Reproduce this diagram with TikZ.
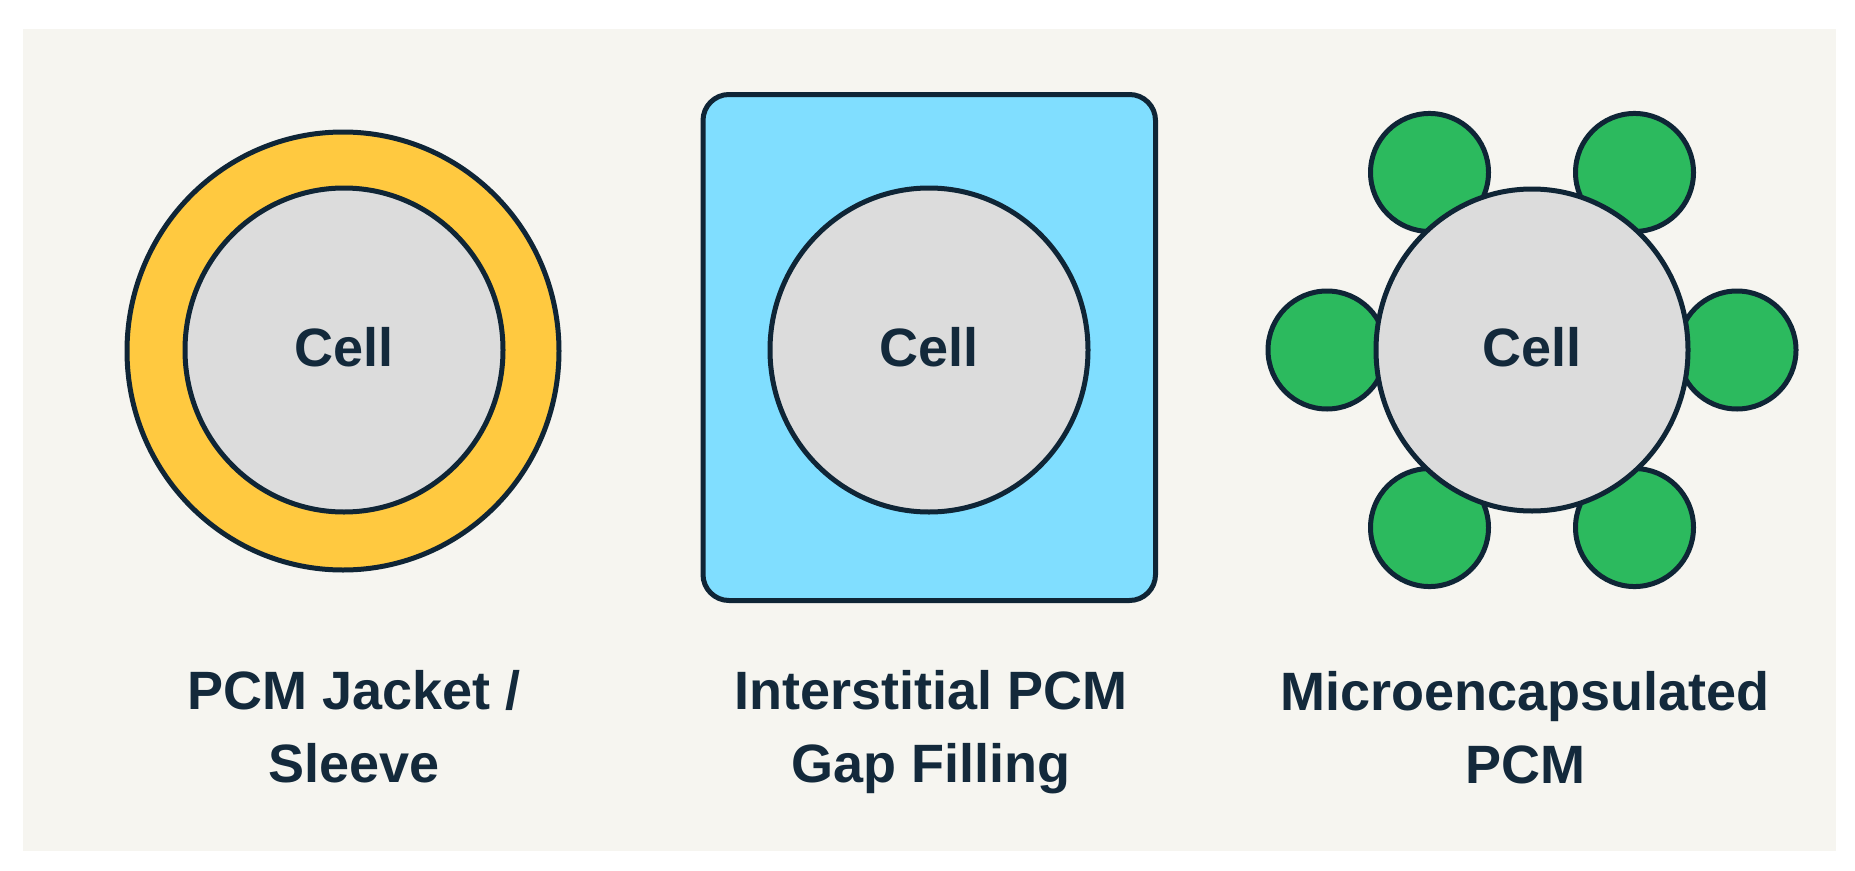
\documentclass[tikz,border=0pt]{standalone}
\usepackage{fontspec}
\setmainfont{Liberation Sans}
\usetikzlibrary{shapes.geometric}
\definecolor{panelbg}{HTML}{F6F5F0}
\definecolor{outline}{HTML}{0F2536}
\definecolor{txt}{HTML}{13293B}
\definecolor{jacket}{HTML}{FFC940}
\definecolor{gapblue}{HTML}{80DEFF}
\definecolor{capsule}{HTML}{2CBA5E}
\definecolor{cellgray}{HTML}{DCDCDC}
\tikzset{
  cellbody/.style={shape=ellipse, draw=outline, line width=5pt, fill=cellgray,
    inner sep=0pt, text=txt, font=\fontsize{54}{60}\selectfont\bfseries,
    text height=38.7pt, text depth=6pt},
  ring/.style={shape=ellipse, draw=outline, line width=5pt, fill=jacket, inner sep=0pt},
  gapbox/.style={draw=outline, line width=5pt, fill=gapblue, rounded corners=26pt},
  microcap/.style={shape=circle, draw=outline, line width=5pt, fill=capsule,
    inner sep=0pt, minimum size=118pt},
  caption/.style={anchor=north, inner sep=0pt, align=center, text=txt,
    font=\fontsize{54}{73}\selectfont\bfseries}
}
\begin{document}
\begin{tikzpicture}[x=1pt,y=-1pt]
\useasboundingbox (0,0) rectangle (1855,870);
\fill[white] (0,0) rectangle (1855,870);
\fill[panelbg] (23,29) rectangle (1836,851);

% Left: PCM jacket / sleeve
\node[ring, minimum width=432pt, minimum height=438pt] (jacket) at (343,351) {};
\node[cellbody, minimum width=318pt, minimum height=324pt] (cellA) at (344,350) {Cell};
\node[caption] (capA) at (354,670) {PCM Jacket /\\Sleeve};

% Middle: interstitial gap filling
\draw[gapbox] (703,94.5) rectangle (1155.5,600.5);
\node[cellbody, minimum width=318pt, minimum height=324pt] (cellB) at (929,350) {Cell};
\node[caption] (capB) at (931,670) {Interstitial PCM\\Gap Filling};

% Right: microencapsulated
\foreach \ang/\nm in {0/m1,60/m2,120/m3,180/m4,240/m5,300/m6}{
  \node[microcap] (\nm) at ({1532+205*cos(\ang)},{350-205*sin(\ang)}) {};
}
\node[cellbody, minimum width=312pt, minimum height=322pt] (cellC) at (1532,350) {Cell};
\node[caption] (capC) at (1525,671) {Microencapsulated\\PCM};
\end{tikzpicture}
\end{document}
